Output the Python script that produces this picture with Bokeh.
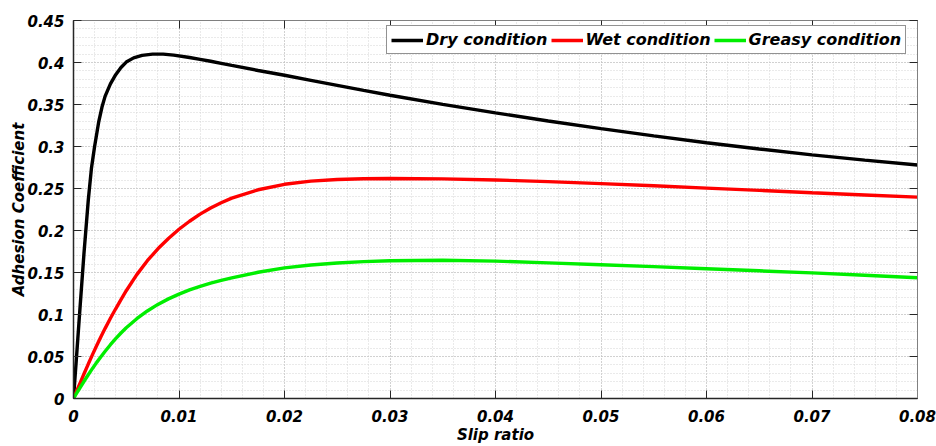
from bokeh.plotting import figure
from bokeh.models import (ColumnDataSource, FixedTicker, LinearAxis, Legend, LegendItem, Range1d,
                          CustomLabelingPolicy)
from bokeh.embed import file_html
from bokeh.resources import INLINE

# ---- data ----
slip_dry = [0, 0.0003, 0.0006, 0.001, 0.0014, 0.0017, 0.002, 0.0024, 0.0027, 0.003,
            0.0035, 0.004, 0.0045, 0.005, 0.0057, 0.0065, 0.0075, 0.0085, 0.0095, 0.011,
            0.012, 0.013, 0.014, 0.015, 0.0175, 0.02, 0.0225, 0.025, 0.0275, 0.03,
            0.035, 0.04, 0.045, 0.05, 0.055, 0.06, 0.065, 0.07, 0.075, 0.08]
dry = [0, 0.052, 0.105, 0.174, 0.236, 0.274, 0.300, 0.330, 0.347, 0.360,
       0.3745, 0.3855, 0.3940, 0.4005, 0.4055, 0.4085, 0.4100, 0.4100, 0.4088, 0.4060,
       0.4038, 0.4015, 0.3990, 0.3965, 0.3905, 0.3848, 0.3788, 0.3728, 0.3668, 0.3610,
       0.3502, 0.3400, 0.3303, 0.3213, 0.3127, 0.3045, 0.2970, 0.2900, 0.2838, 0.2780]

slip = [0, 0.0003, 0.0006, 0.001, 0.0014, 0.0018, 0.0022, 0.0026, 0.003, 0.0035,
        0.004, 0.0045, 0.005, 0.006, 0.007, 0.008, 0.009, 0.01, 0.011, 0.012,
        0.013, 0.014, 0.015, 0.0175, 0.02, 0.0225, 0.025, 0.0275, 0.03, 0.035,
        0.04, 0.045, 0.05, 0.055, 0.06, 0.065, 0.07, 0.075, 0.08]
wet = [0, 0.0089, 0.0178, 0.0295, 0.0410, 0.0522, 0.0630, 0.0735, 0.0835, 0.0955,
       0.1068, 0.1178, 0.1283, 0.1475, 0.1640, 0.1782, 0.1905, 0.2015, 0.2110, 0.2195,
       0.2268, 0.2330, 0.2385, 0.2485, 0.2550, 0.2588, 0.2607, 0.2616, 0.2619, 0.2615,
       0.2602, 0.2582, 0.2558, 0.2532, 0.2505, 0.2478, 0.2450, 0.2423, 0.2397]
greasy = [0, 0.0063, 0.0125, 0.0205, 0.0283, 0.0358, 0.0430, 0.0498, 0.0563, 0.0640,
          0.0712, 0.0780, 0.0843, 0.0950, 0.1042, 0.1120, 0.1186, 0.1243, 0.1293, 0.1336,
          0.1374, 0.1406, 0.1435, 0.1503, 0.1555, 0.1590, 0.1613, 0.1630, 0.1640, 0.1645,
          0.1635, 0.1615, 0.1593, 0.1570, 0.1545, 0.1520, 0.1495, 0.1467, 0.1437]

series_names = ["Dry condition", "Wet condition", "Greasy condition"]
series_colors = ["#000000", "#ff0000", "#00ee00"]

x_ticks = [0, 0.01, 0.02, 0.03, 0.04, 0.05, 0.06, 0.07, 0.08]
x_tick_labels = ["0", "0.01", "0.02", "0.03", "0.04", "0.05", "0.06", "0.07", "0.08"]
y_ticks = [0, 0.05, 0.1, 0.15, 0.2, 0.25, 0.3, 0.35, 0.4, 0.45]
y_tick_labels = ["0", "0.05", "0.1", "0.15", "0.2", "0.25", "0.3", "0.35", "0.4", "0.45"]
x_minor = [i * 0.002 for i in range(41)]
y_minor = [i * 0.01 for i in range(46)]

FONT = "DejaVu Sans"

p = figure(width=936, height=446, output_backend="svg", toolbar_location=None,
           x_range=Range1d(0, 0.08), y_range=Range1d(0, 0.45),
           min_border_left=73, min_border_right=19, min_border_top=20, min_border_bottom=48,
           background_fill_color="white", border_fill_color="white")
p.outline_line_color = "#808080"
p.outline_line_width = 1

dry_src = ColumnDataSource(dict(slip=slip_dry, mu=dry))
src = ColumnDataSource(dict(slip=slip, wet=wet, greasy=greasy))
r_dry = p.line("slip", "mu", source=dry_src, line_color=series_colors[0], line_width=3.4)
r_wet = p.line("slip", "wet", source=src, line_color=series_colors[1], line_width=3.4)
r_greasy = p.line("slip", "greasy", source=src, line_color=series_colors[2], line_width=3.4)
renderers = [r_dry, r_wet, r_greasy]

xt = FixedTicker(ticks=x_ticks, minor_ticks=x_minor)
yt = FixedTicker(ticks=y_ticks, minor_ticks=y_minor)

no_labels = CustomLabelingPolicy(code="""
try {
  const n = indices.size
  for (let i = 0; i < n; i++) indices.unset(i)
} catch (e) {}
return indices
""")

def style_axis(ax, labels=None, ticks=None, show=True):
    ax.major_tick_in = 8
    ax.major_tick_out = 0
    ax.minor_tick_line_color = None
    ax.major_tick_line_color = "#262626"
    ax.major_tick_line_width = 1
    if show:
        ax.axis_line_color = "#262626"
        ax.axis_line_width = 1.5
        ax.major_label_text_font = FONT
        ax.major_label_text_font_style = "bold italic"
        ax.major_label_text_font_size = "15px"
        ax.major_label_text_color = "#000000"
        ax.major_label_overrides = {t: l for t, l in zip(ticks, labels)}
        ax.axis_label_text_font = FONT
        ax.axis_label_text_font_style = "bold italic"
        ax.axis_label_text_font_size = "15px"
        ax.axis_label_text_color = "#000000"
    else:
        ax.axis_line_color = "#808080"
        ax.major_label_text_font_size = "0px"
        ax.major_label_policy = no_labels

xa = p.xaxis[0]
xa.ticker = xt
xa.axis_label = "Slip ratio"
style_axis(xa, x_tick_labels, x_ticks)
xa.major_label_standoff = 7
xa.axis_label_standoff = 1

ya = p.yaxis[0]
ya.ticker = yt
ya.axis_label = "Adhesion Coefficient"
style_axis(ya, y_tick_labels, y_ticks)
ya.major_label_standoff = 5
ya.axis_label_standoff = -4

top = LinearAxis(ticker=xt)
style_axis(top, show=False)
p.add_layout(top, "above")
right = LinearAxis(ticker=yt)
style_axis(right, show=False)
p.add_layout(right, "right")

for g in (p.xgrid[0], p.ygrid[0]):
    g.grid_line_color = "#b8b8b8"
    g.grid_line_dash = "1 2"
    g.grid_line_width = 1
    g.minor_grid_line_color = "#d4d4d4"
    g.minor_grid_line_dash = "1 2"
    g.minor_grid_line_width = 1
p.xgrid[0].ticker = xt
p.ygrid[0].ticker = yt

legend = Legend(items=[LegendItem(label=n, renderers=[r]) for n, r in zip(series_names, renderers)],
                orientation="horizontal", location=(313, 344))
legend.label_text_font = FONT
legend.label_text_font_style = "bold italic"
legend.label_text_font_size = "16px"
legend.label_text_color = "#000000"
legend.glyph_width = 32
legend.glyph_height = 18
legend.label_standoff = 3
legend.spacing = 3
legend.padding = 4
legend.margin = 0
legend.border_line_color = "#262626"
legend.border_line_width = 1
legend.background_fill_color = "white"
legend.background_fill_alpha = 1
p.add_layout(legend, "center")

open("out.html", "w").write(file_html(p, INLINE))
